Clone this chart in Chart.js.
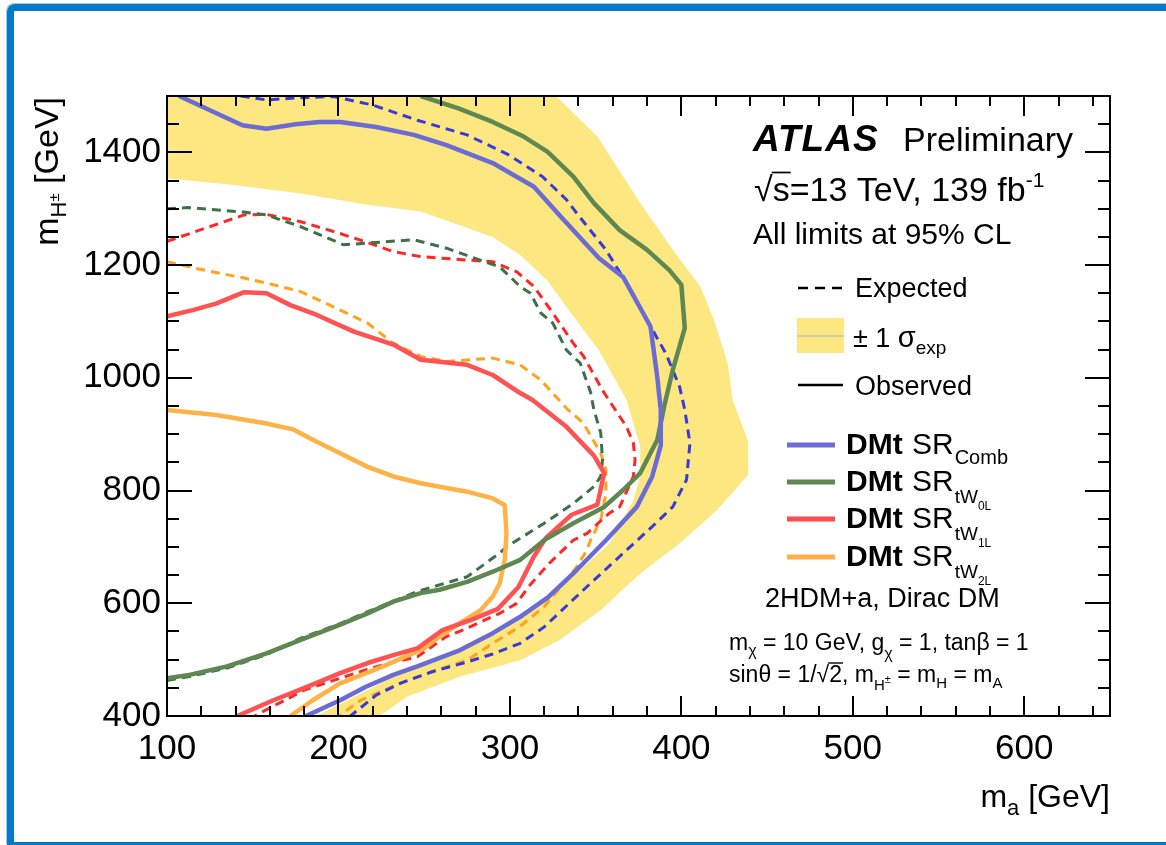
<!DOCTYPE html>
<html><head><meta charset="utf-8">
<script src="https://cdn.jsdelivr.net/npm/chart.js@4.4.1/dist/chart.umd.min.js"></script>
<style>
html,body{margin:0;padding:0;background:#fff;overflow:hidden;}
#wrap{position:relative;width:1166px;height:845px;}
#frame{position:absolute;left:7px;top:4px;width:1200px;height:841px;box-sizing:border-box;border-left:7px solid #0779C9;border-top:7px solid #0779C9;border-bottom:3px solid #0779C9;border-top-left-radius:8px;pointer-events:none;box-shadow:-1px -1px 0 #9CCBEC;}
canvas{position:absolute;left:0;top:0;}
</style></head><body>
<div id="wrap"><canvas id="c" width="1166" height="845"></canvas><div id="frame"></div></div>
<script>
// ---- tick labels ----
const xTicks = [100, 200, 300, 400, 500, 600];
const yTicks = [400, 600, 800, 1000, 1200, 1400];

// ---- DMt SR_Comb ----
const combObsX = [107, 144, 158, 175, 189, 201, 222, 244, 263, 290, 314, 330, 352, 366, 382, 386, 388, 388, 383, 374, 357, 339, 322, 306, 290, 271, 246, 232, 216, 201, 181];
const combObsY = [1500, 1448, 1442, 1450, 1454, 1454, 1445, 1431, 1413, 1381, 1339, 1285, 1212, 1179, 1091, 1000, 943, 880, 825, 771, 715, 659, 610, 576, 547, 517, 488, 473, 452, 428, 400];
const combExpX = [143, 158, 178, 197, 220, 246, 275, 299, 319, 333, 339, 356, 368, 380, 391, 399, 402, 405, 403, 395, 383, 364, 343, 320, 306, 290, 273, 255, 236, 222, 207];
const combExpY = [1500, 1493, 1497, 1499, 1484, 1457, 1431, 1396, 1357, 1316, 1292, 1227, 1168, 1102, 1043, 984, 943, 884, 819, 771, 736, 683, 624, 558, 529, 510, 494, 479, 458, 437, 400];

// ---- DMt SR_tW0L ----
const tw0lObsX = [248, 270, 290, 308, 322, 337, 349, 364, 380, 393, 400, 402, 395, 390, 386, 376, 366, 355, 337, 320, 306, 290, 275, 259, 248, 232, 217, 201, 178, 158, 135, 113, 100];
const tw0lObsY = [1500, 1478, 1454, 1428, 1401, 1357, 1310, 1262, 1227, 1191, 1165, 1088, 1014, 950, 890, 831, 801, 771, 742, 712, 677, 656, 638, 624, 618, 603, 582, 562, 535, 511, 488, 473, 467];
const tw0lExpX = [100, 112, 145, 158, 178, 203, 217, 244, 263, 288, 294, 306, 312, 318, 325, 333, 341, 347, 349, 353, 354, 353, 349, 337, 320, 298, 294, 275, 255, 246, 217, 201, 178, 158, 135, 113, 100];
const tw0lExpY = [1300, 1302, 1294, 1289, 1268, 1236, 1239, 1245, 1230, 1203, 1197, 1162, 1150, 1115, 1097, 1049, 1026, 975, 943, 902, 854, 825, 807, 777, 742, 700, 689, 647, 629, 621, 585, 564, 538, 509, 485, 470, 463];

// ---- DMt SR_tW1L ----
const tw1lObsX = [100, 115, 129, 145, 158, 172, 187, 209, 232, 248, 275, 290, 306, 313, 333, 349, 355, 351, 336, 321, 314, 305, 293, 277, 261, 246, 232, 217, 201, 182, 162, 141];
const tw1lObsY = [1109, 1120, 1132, 1152, 1150, 1129, 1112, 1082, 1059, 1032, 1023, 1005, 973, 961, 913, 862, 831, 775, 757, 716, 683, 629, 590, 570, 553, 520, 508, 494, 476, 452, 428, 400];
const tw1lExpX = [100, 119, 145, 158, 178, 201, 218, 232, 248, 275, 290, 304, 314, 325, 337, 343, 354, 360, 368, 372, 373, 372, 364, 358, 345, 337, 323, 311, 304, 294, 273, 263, 246, 230, 213, 201, 180, 151];
const tw1lExpY = [1242, 1262, 1289, 1290, 1277, 1256, 1239, 1224, 1215, 1209, 1206, 1188, 1162, 1115, 1061, 1038, 978, 950, 913, 884, 854, 825, 771, 760, 724, 712, 671, 630, 600, 582, 553, 541, 505, 494, 479, 467, 446, 400];

// ---- DMt SR_tW2L ----
const tw2lObsX = [100, 129, 158, 174, 185, 201, 217, 232, 248, 275, 290, 297, 298, 297, 294, 290, 283, 271, 259, 250, 226, 201, 185, 172];
const tw2lObsY = [943, 934, 919, 908, 890, 866, 842, 825, 813, 798, 786, 774, 724, 677, 635, 612, 588, 565, 541, 520, 488, 458, 428, 400];
const tw2lExpX = [100, 117, 145, 158, 178, 197, 217, 232, 248, 263, 290, 306, 318, 333, 343, 353, 356, 356, 353, 347, 345, 339, 333, 320, 306, 290, 275, 255, 236, 213, 201];
const tw2lExpY = [1206, 1194, 1177, 1168, 1153, 1126, 1097, 1061, 1038, 1029, 1035, 1023, 996, 946, 919, 866, 837, 795, 748, 712, 695, 665, 641, 594, 559, 529, 499, 479, 458, 428, 402];

// ---- +-1 sigma band (SR_Comb expected), closed contour ----
const bandX = [100, 139, 178, 217, 248, 265, 290, 306, 322, 335, 352, 368, 376, 376, 372, 358, 341, 310, 290, 255, 232, 217, 187,
               224, 240, 271, 306, 329, 353, 376, 399, 421, 439, 439, 430, 427, 419, 411, 395, 376, 351, 327, 100];
const bandY = [1354, 1342, 1327, 1307, 1295, 1277, 1250, 1218, 1172, 1117, 1048, 961, 878, 825, 783, 706, 659, 582, 547, 499, 470, 446, 400,
               400, 434, 470, 499, 535, 588, 653, 706, 766, 828, 887, 960, 1026, 1103, 1162, 1227, 1310, 1428, 1500, 1500];

const FONT = '"Liberation Sans", Arial, Helvetica, sans-serif';
const zip = (xs, ys) => xs.map((v, i) => ({x: v, y: ys[i]}));

const series = [
  {label: 'Comb', obsX: combObsX, obsY: combObsY, expX: combExpX, expY: combExpY, obs: '#6B6BD6', exp: '#3A3AD8'},
  {label: 'tW0L', obsX: tw0lObsX, obsY: tw0lObsY, expX: tw0lExpX, expY: tw0lExpY, obs: '#5F8752', exp: '#3E714A'},
  {label: 'tW1L', obsX: tw1lObsX, obsY: tw1lObsY, expX: tw1lExpX, expY: tw1lExpY, obs: '#FF5252', exp: '#FF2626'},
  {label: 'tW2L', obsX: tw2lObsX, obsY: tw2lObsY, expX: tw2lExpX, expY: tw2lExpY, obs: '#FFB246', exp: '#FFA21C'}
];

const datasets = [];
series.forEach(s => {
  datasets.push({label: s.label + ' obs', data: zip(s.obsX, s.obsY), showLine: true, borderColor: s.obs, borderWidth: 4.5, pointRadius: 0, tension: 0, fill: false, clip: 0, borderJoinStyle: 'round'});
});
series.forEach(s => {
  datasets.push({label: s.label + ' exp', data: zip(s.expX, s.expY), showLine: true, borderColor: s.exp, borderWidth: 3, borderDash: [9, 6], pointRadius: 0, tension: 0, fill: false, clip: 0});
});
datasets.push({label: 'band', data: zip(bandX, bandY), showLine: true, borderWidth: 0, borderColor: 'rgba(0,0,0,0)', backgroundColor: '#FDE780', pointRadius: 0, tension: 0, fill: 'shape', clip: 0});

function setFont(ctx, p) { ctx.font = `${p.st || ''} ${p.s}px ${FONT}`; ctx.letterSpacing = (p.ls || 0) + 'px'; }
function partsWidth(ctx, parts) {
  let w = 0;
  for (const p of parts) { setFont(ctx, p); w += ctx.measureText(p.t).width + (p.gap || 0); }
  ctx.letterSpacing = '0px';
  return w;
}
function drawRich(ctx, x, y, parts) {
  let cx = x;
  const pos = [];
  for (const p of parts) {
    setFont(ctx, p);
    ctx.fillText(p.t, cx, y + (p.dy || 0));
    const w = ctx.measureText(p.t).width;
    pos.push([cx, w]);
    cx += w + (p.gap || 0);
  }
  ctx.letterSpacing = '0px';
  return pos;
}

const atlasPlugin = {
  id: 'atlas',
  afterDatasetsDraw(chart) {
    const {ctx, chartArea: a, scales: {x, y}} = chart;
    ctx.save();
    ctx.strokeStyle = '#000';
    ctx.lineWidth = 2;
    ctx.beginPath();
    for (let v = 100; v <= 650; v += 20) {
      const px = Math.round(x.getPixelForValue(v));
      const L = (v % 100 === 0) ? 20 : 10;
      ctx.moveTo(px, a.bottom); ctx.lineTo(px, a.bottom - L);
      ctx.moveTo(px, a.top); ctx.lineTo(px, a.top + L);
    }
    for (let v = 400; v <= 1500; v += 50) {
      const py = Math.round(y.getPixelForValue(v));
      const L = (v % 200 === 0 && v < 1500) ? 25 : 12;
      ctx.moveTo(a.left, py); ctx.lineTo(a.left + L, py);
      ctx.moveTo(a.right, py); ctx.lineTo(a.right - L, py);
    }
    ctx.stroke();
    ctx.strokeRect(a.left, a.top, a.right - a.left, a.bottom - a.top);
    ctx.restore();
  },
  afterDraw(chart) {
    const {ctx, chartArea: a} = chart;
    ctx.save();
    ctx.fillStyle = '#000';
    ctx.strokeStyle = '#000';
    ctx.textBaseline = 'alphabetic';
    ctx.textAlign = 'left';

    // axis titles
    const xt = [{t: 'm', s: 32}, {t: 'a', s: 22, dy: 8}, {t: ' [GeV]', s: 32}];
    drawRich(ctx, a.right - partsWidth(ctx, xt), 807, xt);
    ctx.save();
    ctx.translate(58, 97); ctx.rotate(-Math.PI / 2);
    const yt = [{t: 'm', s: 34}, {t: 'H', s: 22, dy: 8}, {t: '±', s: 15, dy: 1}, {t: ' [GeV]', s: 34}];
    drawRich(ctx, -partsWidth(ctx, yt), 0, yt);
    ctx.restore();

    // ATLAS label
    drawRich(ctx, 753, 151, [{t: 'ATLAS', s: 37, st: 'italic bold', ls: 1}]);
    drawRich(ctx, 903, 151, [{t: 'Preliminary', s: 34}]);
    // sqrt(s)
    const p1 = drawRich(ctx, 754, 201, [{t: '√', s: 34}, {t: 's=13 TeV, 139 fb', s: 34}, {t: '-1', s: 21, dy: -14}]);
    ctx.font = `34px ${FONT}`;
    const sw = ctx.measureText('s').width;
    ctx.lineWidth = 1.7;
    ctx.beginPath(); ctx.moveTo(p1[1][0] - 1, 201 - 28.5); ctx.lineTo(p1[1][0] + sw + 1, 201 - 28.5); ctx.stroke();
    drawRich(ctx, 753, 244, [{t: 'All limits at 95% CL', s: 30}]);

    // Expected / band / Observed legend
    ctx.lineWidth = 2.5;
    ctx.setLineDash([10, 7]);
    ctx.beginPath(); ctx.moveTo(798, 288); ctx.lineTo(845, 288); ctx.stroke();
    ctx.setLineDash([]);
    drawRich(ctx, 855, 297, [{t: 'Expected', s: 27}]);
    ctx.fillStyle = '#FDE780';
    ctx.fillRect(797, 318, 47, 35);
    ctx.strokeStyle = '#CFCDB4'; ctx.lineWidth = 2;
    ctx.beginPath(); ctx.moveTo(797, 336); ctx.lineTo(844, 336); ctx.stroke();
    ctx.fillStyle = '#000'; ctx.strokeStyle = '#000';
    drawRich(ctx, 853, 347, [{t: '± 1 ', s: 27}, {t: 'σ', s: 29}, {t: 'exp', s: 19, dy: 7}]);
    ctx.lineWidth = 2.5;
    ctx.beginPath(); ctx.moveTo(798, 385); ctx.lineTo(843, 385); ctx.stroke();
    drawRich(ctx, 855, 395, [{t: 'Observed', s: 27}]);

    // series legend
    const ly = [445, 482, 519, 557];
    const lcol = ['#6C6CD9', '#5F8752', '#FF4D4D', '#FFB04A'];
    const subs = [null, '0L', '1L', '2L'];
    for (let i = 0; i < 4; i++) {
      ctx.strokeStyle = lcol[i]; ctx.lineWidth = 5;
      ctx.beginPath(); ctx.moveTo(787, ly[i]); ctx.lineTo(835, ly[i]); ctx.stroke();
      const bl = ly[i] + 8.5;
      drawRich(ctx, 846, bl, [{t: 'DMt', s: 30, st: 'bold'}]);
      const sr = drawRich(ctx, 912, bl, [{t: 'SR', s: 30}]);
      const sx = sr[0][0] + sr[0][1] + 1;
      if (i === 0) drawRich(ctx, sx, bl + 10, [{t: 'Comb', s: 20}]);
      else drawRich(ctx, sx, bl + 12, [{t: 'tW', s: 19}, {t: subs[i], s: 12, dy: 7}]);
    }
    ctx.strokeStyle = '#000';
    drawRich(ctx, 765, 607, [{t: '2HDM+a, Dirac DM', s: 27}]);

    // model parameters
    drawRich(ctx, 729, 650, [{t: 'm', s: 23}, {t: 'χ', s: 16, dy: 6}, {t: ' = 10 GeV, g', s: 23}, {t: 'χ', s: 16, dy: 9}, {t: ' = 1, tanβ = 1', s: 23}]);
    const p2 = drawRich(ctx, 729, 682, [{t: 'sinθ = 1/', s: 23}, {t: '√', s: 23}, {t: '2', s: 23}, {t: ', m', s: 23}, {t: 'H', s: 15, dy: 8}, {t: '±', s: 11, dy: 1}, {t: ' = m', s: 23}, {t: 'H', s: 15, dy: 6}, {t: ' = m', s: 23}, {t: 'A', s: 15, dy: 6}]);
    ctx.lineWidth = 1.4;
    ctx.beginPath(); ctx.moveTo(p2[2][0] - 1, 682 - 19); ctx.lineTo(p2[2][0] + p2[2][1] + 1, 682 - 19); ctx.stroke();
    ctx.restore();
  }
};

new Chart(document.getElementById('c'), {
  type: 'scatter',
  data: {datasets},
  options: {
    responsive: false,
    devicePixelRatio: 1,
    animation: false,
    events: [],
    layout: {padding: {left: 0, right: 56, top: 96, bottom: 0}},
    plugins: {legend: {display: false}, tooltip: {enabled: false}},
    scales: {
      x: {
        type: 'linear', min: 100, max: 650,
        grid: {display: false, drawTicks: false},
        border: {display: false},
        afterBuildTicks: s => { s.ticks = xTicks.map(v => ({value: v})); },
        afterFit: s => { s.height = 129; },
        ticks: {font: {family: FONT, size: 35}, color: '#000', padding: 12, maxRotation: 0, autoSkip: false, callback: v => String(v)}
      },
      y: {
        type: 'linear', min: 400, max: 1500,
        grid: {display: false, drawTicks: false},
        border: {display: false},
        afterBuildTicks: s => { s.ticks = yTicks.map(v => ({value: v})); },
        afterFit: s => { s.width = 167; },
        ticks: {font: {family: FONT, size: 35}, color: '#000', padding: 6, autoSkip: false, callback: v => String(v)}
      }
    }
  },
  plugins: [atlasPlugin]
});
</script></body></html>
